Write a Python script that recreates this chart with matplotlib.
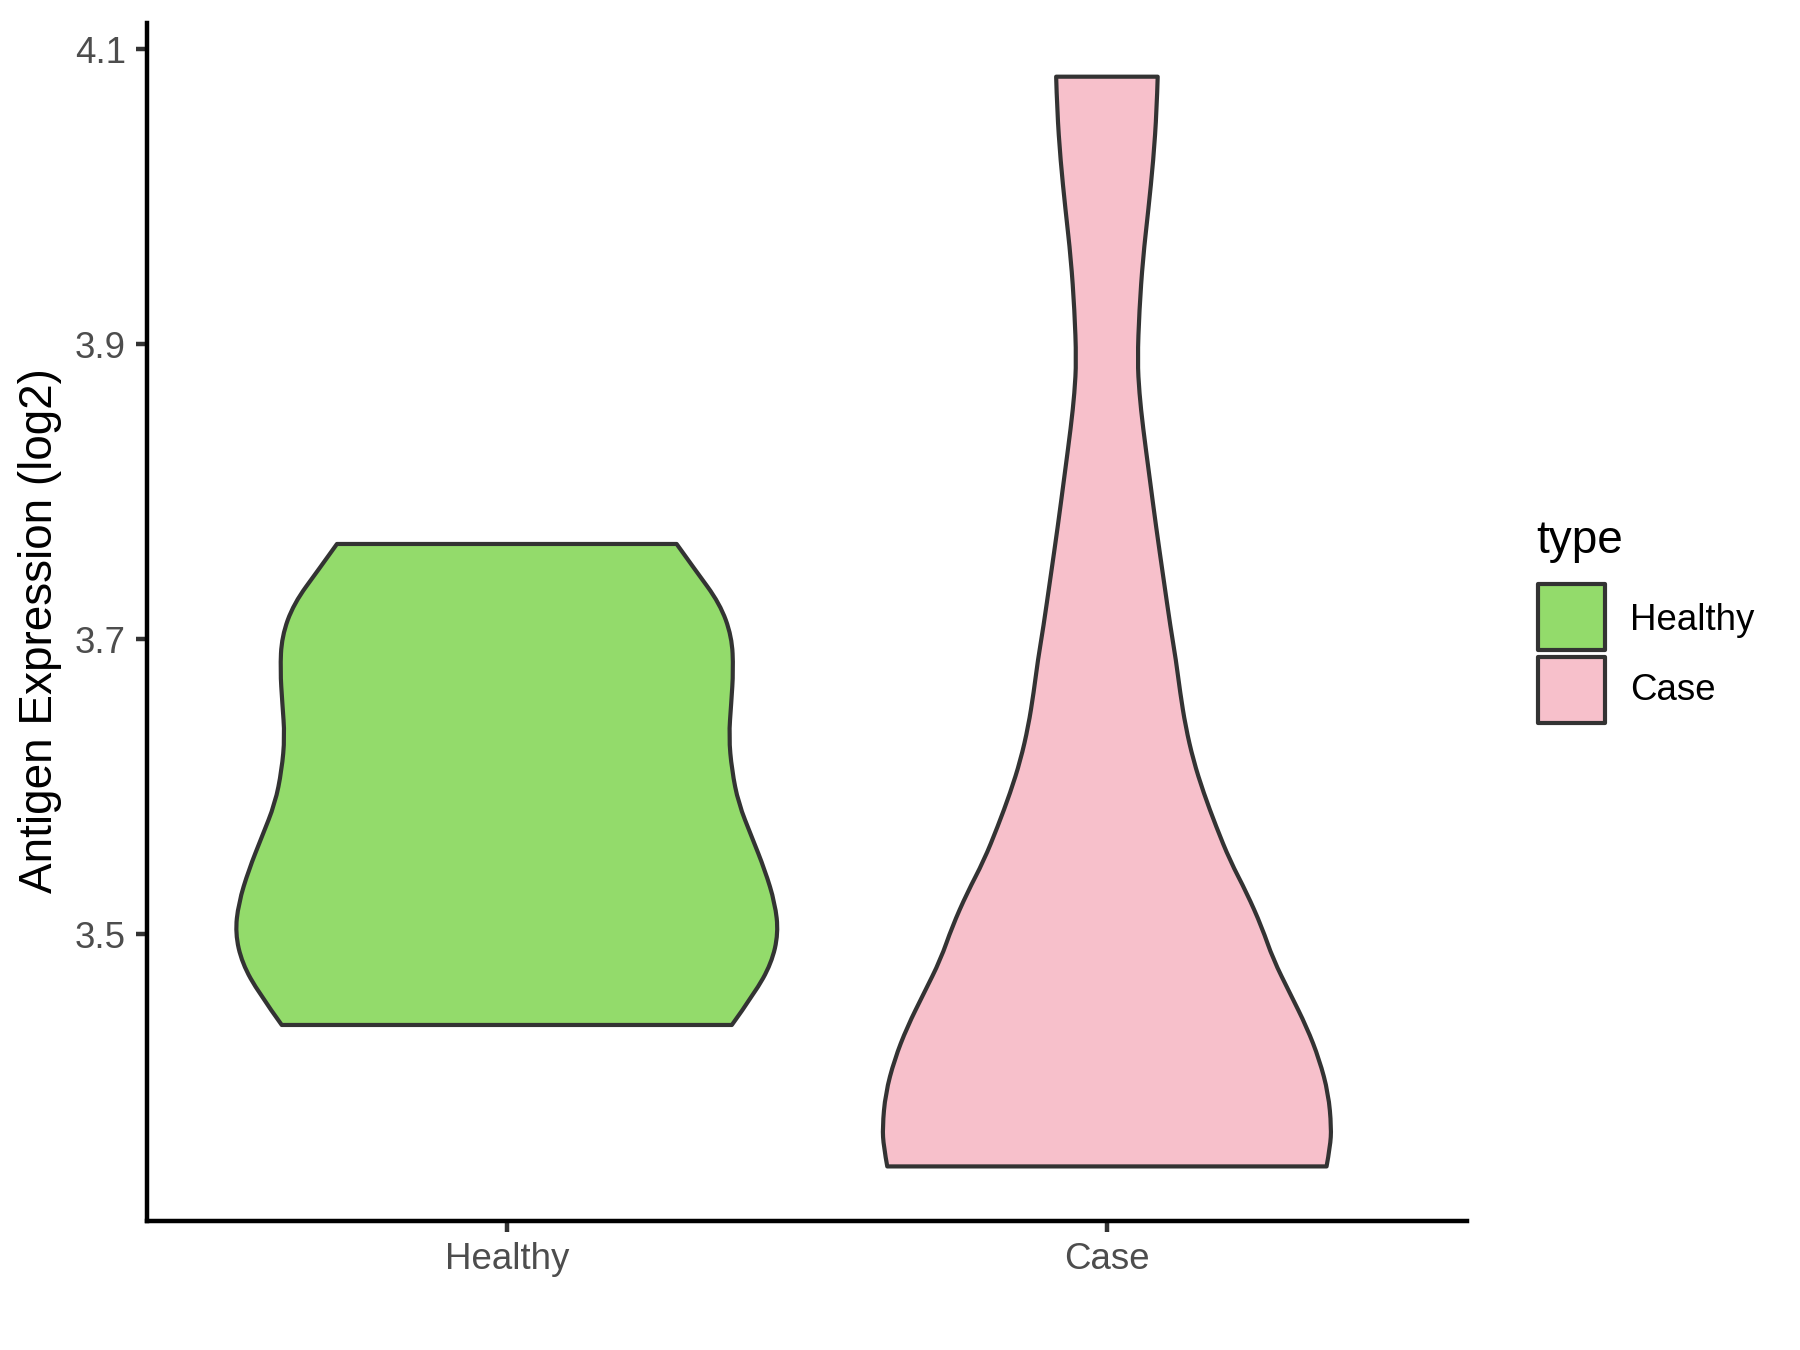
import matplotlib
matplotlib.use("Agg")
import matplotlib.pyplot as plt
from matplotlib.patches import Rectangle, PathPatch
from matplotlib.path import Path

# ---- data ----
categories = ["Healthy", "Case"]
fill_colors = ["#93DB6B", "#F7C0CB"]

# violin outline: y values (log2 expression) and half-widths (category units)
healthy_y = [3.4385, 3.460, 3.4803, 3.5007, 3.521, 3.5436, 3.5662, 3.5888, 3.6114,
             3.634, 3.6566, 3.679, 3.7018, 3.7242, 3.747, 3.7646]
healthy_hw = [0.375, 0.413, 0.441, 0.4525, 0.447, 0.430, 0.408, 0.386, 0.375,
              0.370, 0.374, 0.3775, 0.375, 0.355, 0.314, 0.283]

case_y = [3.3426, 3.356, 3.369, 3.392, 3.415, 3.437, 3.460, 3.483, 3.505, 3.528,
          3.550, 3.573, 3.596, 3.618, 3.641, 3.664, 3.686, 3.708, 3.742, 3.776,
          3.810, 3.844, 3.867, 3.889, 3.923, 3.958, 3.991, 4.0249, 4.0589, 4.0814]
case_hw = [0.366, 0.372, 0.374, 0.369, 0.354, 0.333, 0.305, 0.277, 0.258, 0.233,
           0.205, 0.182, 0.161, 0.144, 0.131, 0.122, 0.115, 0.106, 0.094, 0.082,
           0.071, 0.060, 0.054, 0.051, 0.054, 0.060, 0.069, 0.0774, 0.083, 0.0846]

y_ticks = [3.5, 3.7, 3.9, 4.1]
y_tick_labels = ["3.5", "3.7", "3.9", "4.1"]
y_label = "Antigen Expression (log2)"
legend_title = "type"

plt.rcParams['font.family'] = ['Liberation Sans', 'DejaVu Sans']

fig = plt.figure(figsize=(6, 4.5), dpi=300)
ax = fig.add_axes([146.7 / 1800, 1 - 1221 / 1350, (1467 - 146.7) / 1800, (1221 - 23) / 1350])

outline = "#333333"
lw = 1.0


def smooth_side(pts, verts, codes):
    """Append a side (list of points) drawn as a smooth quadratic-Bezier chain."""
    n = len(pts)
    for k in range(1, n - 1):
        mx = (pts[k][0] + pts[k + 1][0]) / 2
        my = (pts[k][1] + pts[k + 1][1]) / 2
        if k == n - 2:
            mx, my = pts[k + 1]
        verts += [pts[k], (mx, my)]
        codes += [Path.CURVE3, Path.CURVE3]


profiles = [(healthy_y, healthy_hw), (case_y, case_hw)]
for i, ((ys, hws), col) in enumerate(zip(profiles, fill_colors)):
    pos = i + 1
    left = [(pos - h, y) for h, y in zip(hws, ys)]
    right = [(pos + h, y) for h, y in zip(reversed(hws), reversed(ys))]
    verts = [left[0]]
    codes = [Path.MOVETO]
    smooth_side(left, verts, codes)
    verts.append(right[0]); codes.append(Path.LINETO)
    smooth_side(right, verts, codes)
    verts.append(left[0]); codes.append(Path.CLOSEPOLY)
    ax.add_patch(PathPatch(Path(verts, codes), facecolor=col, edgecolor=outline,
                           linewidth=lw, joinstyle='round'))

ax.set_xlim(0.4, 2.6)
ax.set_ylim(3.3056, 4.1178)
ax.set_xticks([1, 2])
ax.set_xticklabels(categories)
ax.set_yticks(y_ticks)
ax.set_yticklabels(y_tick_labels)

for s in ["top", "right"]:
    ax.spines[s].set_visible(False)
for s in ["left", "bottom"]:
    ax.spines[s].set_color("black")
    ax.spines[s].set_linewidth(1.07)
ax.tick_params(axis="both", colors="#333333", length=2.75, width=1.07,
               labelsize=8.8, labelcolor="#4D4D4D", pad=2.2)

fig.text(40 / 1800, 1 - 631 / 1350, y_label, fontsize=11, color="black",
         rotation=90, ha="center", va="center")

# legend (ggplot style, right side)
fig.text(1536 / 1800, 1 - 541 / 1350, legend_title, fontsize=11, color="black",
         ha="left", va="center")
key_x0, key_w = 1538 / 1800, 67 / 1800
key_tops = [584, 657]
key_h = 66
labels_y = [620, 691]
for top, col, lab, ly in zip(key_tops, fill_colors, categories, labels_y):
    fig.patches.append(Rectangle((key_x0, 1 - (top + key_h) / 1350), key_w, key_h / 1350,
                                 transform=fig.transFigure, facecolor=col,
                                 edgecolor=outline, linewidth=lw, joinstyle='round'))
    fig.text(1630 / 1800, 1 - ly / 1350, lab, fontsize=8.8, color="black",
             ha="left", va="center")

fig.savefig("out.png", dpi=300, facecolor="white")
